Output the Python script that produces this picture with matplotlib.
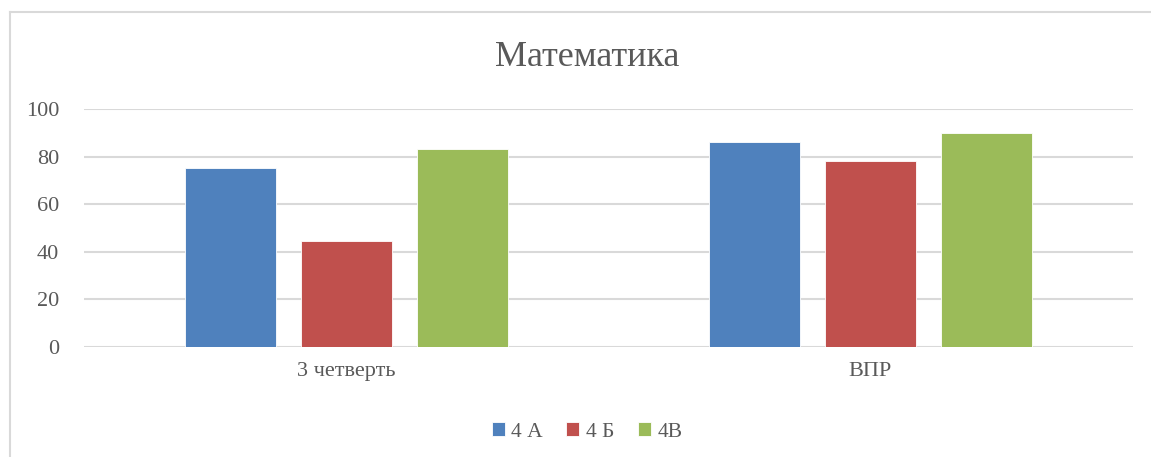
#!/usr/bin/env python3
"""
Math results bar chart: 3rd quarter vs VPR for classes 4A, 4B, 4V.
"""

import numpy as np
import matplotlib.pyplot as plt

plt.rcParams['font.family'] = ['Liberation Serif', 'DejaVu Serif']

# Data
categories = ['3 четверть', 'ВПР']
series_names = ['4 А', '4 Б', '4В']
class_4a = [75, 86]
class_4b = [44.5, 78]
class_4v = [83, 90]
yticks = [0, 20, 40, 60, 80, 100]

# Colors
COLORS = ['#4F81BD', '#C0504D', '#9BBB59']
TEXT = '#595959'
GRID = '#D9D9D9'

fig = plt.figure(figsize=(11.51, 4.57), dpi=100)
ax = fig.add_axes([0.073, 0.2407, 0.911, 0.5208])

x = np.arange(len(categories))
width = 0.1735
step = 0.221
for i, (vals, name) in enumerate(zip([class_4a, class_4b, class_4v], series_names)):
    ax.bar(x + (i - 1) * step, vals, width, color=COLORS[i], label=name,
           edgecolor='white', linewidth=0.6, zorder=3)

ax.set_xlim(-0.5, 1.5)
ax.set_ylim(0, 100)
ax.set_yticks(yticks)
ax.set_xticks(x)
ax.set_xticklabels(categories)
ax.tick_params(axis='both', length=0, labelsize=16, colors=TEXT)
ax.tick_params(axis='y', pad=18)
ax.tick_params(axis='x', pad=11)
ax.grid(axis='y', color=GRID, linewidth=1.5, zorder=0)
for s in ax.spines.values():
    s.set_visible(False)

# Title
fig.text(0.51, 0.875, 'Математика', fontsize=26, color=TEXT,
         ha='center', va='center')

# Legend
fig.legend(loc='center', bbox_to_anchor=(0.51, 0.055), ncol=3,
           frameon=False, fontsize=15.5, handlelength=0.6, handleheight=0.6,
           handletextpad=0.3, columnspacing=1.1, labelcolor=TEXT)

# Chart border (top and left visible)
fig.add_artist(plt.Line2D([0.0085, 1.0], [0.973, 0.973], color=GRID,
                          linewidth=1.5, transform=fig.transFigure))
fig.add_artist(plt.Line2D([0.0085, 0.0085], [0.0, 0.973], color=GRID,
                          linewidth=1.5, transform=fig.transFigure))

plt.savefig('out.png', dpi=100, facecolor='white')
